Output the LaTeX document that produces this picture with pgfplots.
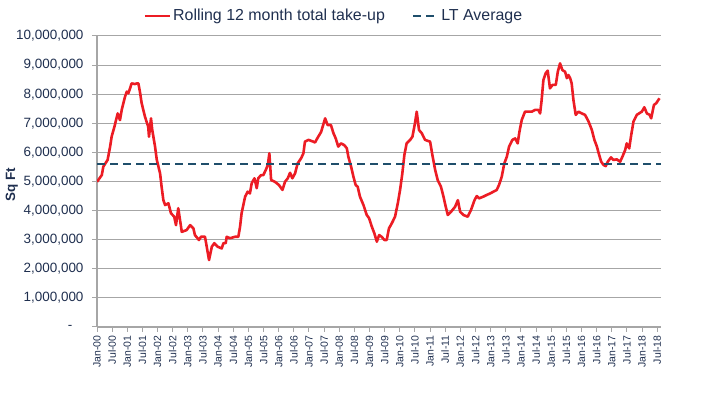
\documentclass[border=0pt]{standalone}
\usepackage{pgfplots}
\pgfplotsset{compat=1.18}
\usepackage{fontspec}
\setmainfont{Liberation Sans}

\definecolor{takeup}{HTML}{EC1C24}
\definecolor{ltavg}{HTML}{1F4E6B}
\definecolor{gridgrey}{HTML}{A6A6A6}
\definecolor{labelblue}{HTML}{1F2F4F}

\begin{document}
\begin{tikzpicture}
\useasboundingbox (0,0) rectangle (721bp,401bp);
\begin{axis}[
  at={(97bp,74bp)}, anchor=south west,
  scale only axis, width=564bp, height=291bp,
  xmin=0, xmax=223.5, ymin=0, ymax=10,
  axis x line*=bottom, axis y line*=left,
  axis line style={gridgrey, line width=1.2bp},
  tick align=outside, major tick length=5bp,
  tick style={gridgrey, line width=1bp},
  ymajorgrids, grid style={gridgrey, line width=1bp},
  ytick={0,1,...,10},
  yticklabels={{-\hphantom{0,}},{1,000,000},{2,000,000},{3,000,000},{4,000,000},{5,000,000},{6,000,000},{7,000,000},{8,000,000},{9,000,000},{10,000,000}},
  yticklabel style={font=\fontsize{13.5}{15}\selectfont, text=labelblue, xshift=-5bp},
  xtick={0,6,...,222},
  xticklabels={Jan-00,Jul-00,Jan-01,Jul-01,Jan-02,Jul-02,Jan-03,Jul-03,Jan-04,Jul-04,Jan-05,Jul-05,Jan-06,Jul-06,Jan-07,Jul-07,Jan-08,Jul-08,Jan-09,Jul-09,Jan-10,Jul-10,Jan-11,Jul-11,Jan-12,Jul-12,Jan-13,Jul-13,Jan-14,Jul-14,Jan-15,Jul-15,Jan-16,Jul-16,Jan-17,Jul-17,Jan-18,Jul-18},
  xticklabel style={font=\fontsize{10.5}{11}\selectfont, text=labelblue, rotate=90, anchor=east},
  ylabel={\textbf{Sq Ft}},
  ylabel style={at={(axis description cs:-0.151,0.488)}, anchor=center, font=\fontsize{13.5}{15}\selectfont, text=labelblue},
  legend columns=2,
  legend style={at={(0.42,1.069)}, anchor=center, draw=none, fill=none,
    font=\fontsize{16}{18}\selectfont, text=labelblue,
    /tikz/every even column/.append style={column sep=25bp}},
  legend image code/.code={\draw[#1] (0bp,0bp) -- (25bp,0bp);},
]
\addplot[takeup, line width=2.6bp, line join=round] coordinates {
(0,4.99) (1.9,5.22) (2.5,5.51) (4.2,5.74) (5.2,6.2) (5.8,6.54) (6.9,6.88)
(8.2,7.34) (9.1,7.11) (9.8,7.46) (11.1,7.91) (11.8,8.09) (12.4,8.03)
(13.1,8.2) (13.7,8.37) (15,8.35) (15.8,8.37) (16.4,8.37) (17,8.09)
(17.7,7.69) (19,7.23) (20.3,6.88) (20.6,6.54) (21.4,7.17) (21.9,6.77)
(23,6.2) (23.7,5.74) (25,5.28) (25.6,4.82) (26.3,4.36) (27,4.19)
(28.3,4.25) (29.3,3.91) (30.6,3.79) (31.3,3.5) (32.2,4.08) (32.9,3.68)
(33.6,3.27) (35.5,3.33) (36.9,3.5) (38.2,3.39) (38.8,3.16) (40.4,2.99)
(41.2,3.1) (42.8,3.1) (44.4,2.3) (45.5,2.76) (46.5,2.88) (47.8,2.76)
(49.4,2.7) (50.1,2.88) (51,2.88) (51.4,3.1) (52.7,3.05) (54.7,3.1)
(56,3.1) (56.7,3.45) (57.3,3.91) (58.7,4.48) (59.7,4.65) (60.6,4.59)
(61.3,4.94) (62.4,5.11) (63.3,4.77) (63.9,5.11) (65,5.22) (65.9,5.22)
(66.9,5.4) (67.7,5.57) (68.3,5.97) (69,5.05) (70.5,4.99) (72.1,4.88)
(73.5,4.71) (74.5,4.99) (75.6,5.11) (76.5,5.3) (77.4,5.11) (78.5,5.28)
(79.5,5.62) (80.9,5.8) (81.8,5.97) (82.4,6.37) (83.8,6.43) (85.7,6.37)
(86.4,6.34) (87.4,6.5) (88.8,6.7) (90.4,7.17) (91.4,6.94) (92.7,6.94)
(93.7,6.66) (94.6,6.48) (95.6,6.2) (96.7,6.31) (98,6.25) (99,6.14)
(99.6,5.85) (100.7,5.51) (101.6,5.17) (102.5,4.88) (103.3,4.82)
(104.2,4.48) (105.6,4.19) (106.9,3.85) (107.8,3.74) (108.9,3.45)
(109.9,3.22) (110.9,2.93) (111.8,3.16) (112.8,3.1) (113.9,2.99)
(114.8,2.99) (115.7,3.39) (116.8,3.56) (118.1,3.79) (119.2,4.25)
(120.1,4.71) (121,5.28) (121.8,5.91) (122.7,6.31) (124.1,6.43) (125,6.54)
(126,7.0) (126.7,7.4) (127.6,6.77) (128.7,6.66) (130,6.43) (132,6.37)
(132.9,5.91) (134,5.4) (135,5.05) (136.3,4.82) (137.3,4.48) (138.2,4.13)
(139,3.85) (140.3,3.96) (141.9,4.13) (143,4.36) (143.9,3.96) (145.2,3.85)
(146.9,3.79) (148.2,4.02) (149.6,4.36) (150.5,4.5) (151.4,4.42)
(153.1,4.48) (154.5,4.54) (155.8,4.59) (157.1,4.65) (158.4,4.71)
(159.3,4.88) (160.4,5.17) (161.4,5.62) (162.4,5.85) (163.3,6.2)
(164.6,6.43) (165.7,6.48) (166.7,6.31) (167.4,6.71) (168.3,7.11)
(169.6,7.4) (172.3,7.4) (173.6,7.46) (174.9,7.46) (175.6,7.34)
(176.2,7.8) (176.9,8.49) (177.8,8.72) (178.6,8.81) (179.5,8.2)
(180.5,8.32) (181.8,8.32) (182.6,8.77) (183.5,9.06) (184.4,8.83)
(185.5,8.77) (186.2,8.55) (186.8,8.66) (187.5,8.55) (188.1,8.37)
(188.8,7.8) (189.7,7.29) (190.8,7.4) (192.1,7.34) (193.4,7.29)
(194.8,7.06) (196.1,6.77) (197.1,6.43) (198.1,6.2) (198.8,5.97)
(199.8,5.68) (200.7,5.57) (201.6,5.53) (202.4,5.68) (203.7,5.83)
(204.6,5.74) (206,5.76) (207.3,5.68) (208.2,5.85) (209.3,6.08)
(209.9,6.31) (210.9,6.14) (211.7,6.6) (212.6,7.06) (213.9,7.29)
(214.8,7.34) (215.9,7.4) (216.9,7.55) (217.9,7.34) (219,7.29)
(219.6,7.17) (220.7,7.63) (221.6,7.69) (222.9,7.86)
};
\addlegendentry{Rolling 12 month total take-up}
\addplot[ltavg, line width=2.4bp, dash pattern=on 8bp off 5bp] coordinates {
(0,5.6) (223.5,5.6)
};
\addlegendentry{LT Average}
\end{axis}
\end{tikzpicture}
\end{document}
